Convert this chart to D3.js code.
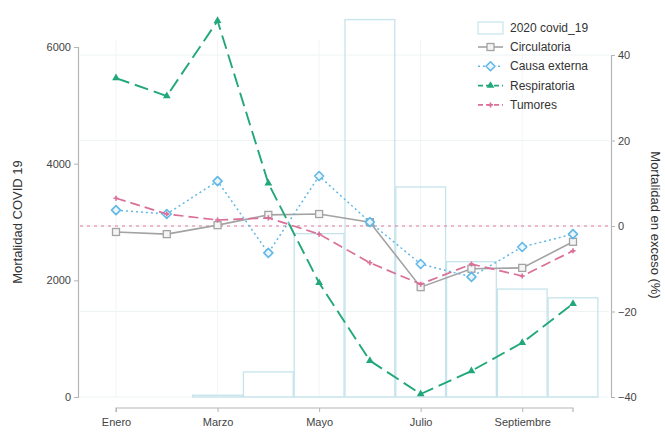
<!DOCTYPE html>
<html><head><meta charset="utf-8">
<script src="https://cdn.jsdelivr.net/npm/d3@7/dist/d3.min.js"></script>
<style>body{margin:0;background:#fff}svg{display:block;font-family:"Liberation Sans",Arial,sans-serif}</style>
</head><body><svg id="c" width="665" height="432"></svg>
<script>
const months = ["Enero","Febrero","Marzo","Abril","Mayo","Junio","Julio","Agosto","Septiembre","Octubre"];
const tickMonths = ["Enero","Marzo","Mayo","Julio","Septiembre"];
const barMonths = ["Marzo","Abril","Mayo","Junio","Julio","Agosto","Septiembre","Octubre"];
const covid19 = [30, 430, 2800, 6470, 3600, 2320, 1850, 1700];
const circulatoria = [-1.4, -1.9, 0.2, 2.6, 2.8, 0.9, -14.3, -10.0, -9.8, -3.7];
const causaExterna = [3.7, 2.8, 10.5, -6.3, 11.7, 0.9, -8.9, -11.9, -4.9, -1.9];
const respiratoria = [34.6, 30.4, 48.0, 10.0, -13.3, -31.5, -39.3, -33.9, -27.3, -18.2];
const tumores = [6.5, 2.8, 1.4, 1.9, -1.9, -8.6, -13.6, -8.9, -11.7, -5.8];
const leftTicks = [0, 2000, 4000, 6000];
const rightTicks = [-40, -20, 0, 20, 40];

const svg = d3.select("#c");
const x = d3.scalePoint().domain(months).range([116, 573]);
const step = x.step();
const yL = d3.scaleLinear().domain([0, 6000]).range([397, 47]);
const yR = d3.scaleLinear().domain([-40, 40]).range([397, 55]);

// faint grid
const g = svg.append("g");
rightTicks.forEach(t => g.append("line").attr("x1", 80).attr("x2", 609).attr("y1", yR(t)).attr("y2", yR(t)).attr("stroke", "#eef3f4").attr("stroke-width", 1));
tickMonths.forEach(m => g.append("line").attr("x1", x(m)).attr("x2", x(m)).attr("y1", 40).attr("y2", 397).attr("stroke", "#f1f5f5").attr("stroke-width", 1));

// bars
svg.append("g").selectAll("rect").data(barMonths).join("rect")
  .attr("x", (d) => x(d) - step / 2 + 0.5)
  .attr("width", step - 1)
  .attr("y", (d, i) => yL(covid19[i]))
  .attr("height", (d, i) => yL(0) - yL(covid19[i]))
  .attr("fill", "none").attr("stroke", "#c5e4ec").attr("stroke-width", 1.3);

// zero reference line
svg.append("line").attr("x1", 80).attr("x2", 609).attr("y1", yR(0)).attr("y2", yR(0))
  .attr("stroke", "#e07aa0").attr("stroke-width", 1.2).attr("stroke-dasharray", "3,4");

// axes
const axL = svg.append("g").attr("transform", "translate(78,0)")
  .call(d3.axisLeft(yL).tickValues(leftTicks).tickFormat(d3.format("d")).tickSize(4).tickPadding(3));
const axR = svg.append("g").attr("transform", "translate(611,0)")
  .call(d3.axisRight(yR).tickValues(rightTicks).tickFormat(d3.format("d")).tickSize(4).tickPadding(3));
const axB = svg.append("g").attr("transform", "translate(0,408)")
  .call(d3.axisBottom(x).tickValues(tickMonths).tickSize(4).tickPadding(6));
[axL, axR, axB].forEach(a => {
  a.select(".domain").attr("stroke", "#b5b5b5").attr("stroke-width", 1.2);
  a.selectAll(".tick line").attr("stroke", "#b5b5b5");
  a.selectAll("text").attr("font-size", 11).attr("fill", "#444").attr("font-family", "Liberation Sans, Arial, sans-serif");
});
axB.select(".domain").attr("d", `M${x(months[0])},4V0H${x(months[9])}V4`);

// axis titles
svg.append("text").attr("transform", "translate(22,222) rotate(-90)").attr("text-anchor", "middle")
  .attr("font-size", 13).attr("fill", "#333").text("Mortalidad COVID 19");
svg.append("text").attr("transform", "translate(651,225) rotate(90)").attr("text-anchor", "middle")
  .attr("font-size", 13).attr("fill", "#333").text("Mortalidad en exceso (%)");

const series = [
  {name: "Circulatoria", data: circulatoria, color: "#a3a3a3", dash: null, width: 1.6, marker: "square"},
  {name: "Causa externa", data: causaExterna, color: "#62b8e6", dash: "2,3", width: 1.5, marker: "diamond"},
  {name: "Respiratoria", data: respiratoria, color: "#22a878", dash: "14,6", width: 1.9, marker: "triangle"},
  {name: "Tumores", data: tumores, color: "#da6f98", dash: "10,5", width: 1.7, marker: "plus"}
];
const line = d3.line().x((d, i) => x(months[i])).y(d => yR(d));
function marker(sel, s, cx, cy) {
  if (s.marker === "square") sel.append("rect").attr("x", cx - 3.5).attr("y", cy - 3.5).attr("width", 7).attr("height", 7).attr("fill", "#f4f4f4").attr("stroke", s.color).attr("stroke-width", 1.3);
  else if (s.marker === "diamond") sel.append("path").attr("d", "M0,-4.5L4.5,0L0,4.5L-4.5,0Z").attr("transform", `translate(${cx},${cy})`).attr("fill", "#eaf6fc").attr("stroke", s.color).attr("stroke-width", 1.6).attr("stroke-linejoin", "round");
  else if (s.marker === "triangle") sel.append("path").attr("d", d3.symbol(d3.symbolTriangle, 26)()).attr("transform", `translate(${cx},${cy})`).attr("fill", s.color);
  else sel.append("path").attr("d", d3.symbol(d3.symbolCross, 14)()).attr("transform", `translate(${cx},${cy})`).attr("fill", s.color);
}
series.forEach(s => {
  const gg = svg.append("g");
  gg.append("path").attr("d", line(s.data)).attr("fill", "none").attr("stroke", s.color)
    .attr("stroke-width", s.width).attr("stroke-dasharray", s.dash);
  s.data.forEach((v, i) => marker(gg, s, x(months[i]), yR(v)));
});

// legend
const lg = svg.append("g");
lg.append("rect").attr("x", 478).attr("y", 22).attr("width", 25).attr("height", 12).attr("fill", "none").attr("stroke", "#c5e4ec").attr("stroke-width", 1.2);
lg.append("text").attr("x", 510).attr("y", 32).attr("font-size", 12).attr("fill", "#333").text("2020 covid_19");
series.forEach((s, i) => {
  const yy = 47 + i * 19.3;
  lg.append("line").attr("x1", 478).attr("x2", 503).attr("y1", yy).attr("y2", yy).attr("stroke", s.color).attr("stroke-width", s.width).attr("stroke-dasharray", s.dash ? (s.marker === "diamond" ? "2,3" : "5,3") : null);
  marker(lg, s, 490.5, yy);
  lg.append("text").attr("x", 510).attr("y", yy + 4).attr("font-size", 12).attr("fill", "#333").text(s.name);
});
</script></body></html>
